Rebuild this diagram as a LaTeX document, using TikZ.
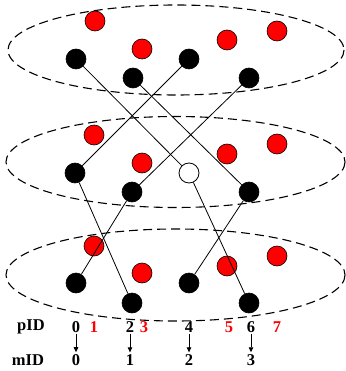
\documentclass[tikz,border=0pt]{standalone}
\usepackage{fontspec}
\setmainfont{Liberation Serif}
\usepackage{tikz}
\usetikzlibrary{arrows.meta,positioning}

\begin{document}
\begin{tikzpicture}[x=1pt,y=-1pt]
  \tikzstyle{blk}=[circle, draw, fill=black, minimum size=20pt, inner sep=0pt, line width=0.6pt]
  \tikzstyle{rd}=[circle, draw, fill=red, minimum size=20pt, inner sep=0pt, line width=0.6pt]
  \tikzstyle{wht}=[circle, draw, fill=white, minimum size=20pt, inner sep=0pt, line width=0.8pt]
  \tikzstyle{grp}=[draw, dash pattern=on 9pt off 5pt, line width=1.1pt]
  \tikzstyle{lbl}=[font=\fontsize{16.5}{16.5}\selectfont\bfseries, inner sep=1pt]
  \tikzstyle{link}=[line width=0.8pt]
  \useasboundingbox (0,0) rectangle (345,371);
  % groups
  \draw[grp] (176,50) ellipse [x radius=168, y radius=45];
  \draw[grp] (175.5,162) ellipse [x radius=169.5, y radius=45.5];
  \draw[grp] (175.5,275) ellipse [x radius=169.5, y radius=46];
  % top
  \node[rd] (a1) at (95,21) {};
  \node[rd] (a3) at (142,49) {};
  \node[rd] (a5) at (227,40) {};
  \node[rd] (a7) at (277,31) {};
  \node[blk] (a0) at (76,59) {};
  \node[blk] (a2) at (133,78) {};
  \node[blk] (a4) at (189,59) {};
  \node[blk] (a6) at (249,78) {};
  % middle
  \node[rd] (b1) at (94,135) {};
  \node[rd] (b3) at (142,163) {};
  \node[rd] (b5) at (227,154) {};
  \node[rd] (b7) at (277,144) {};
  \node[blk] (b0) at (75,173) {};
  \node[blk] (b2) at (132,192) {};
  \node[wht] (b4) at (189,173) {};
  \node[blk] (b6) at (249,192) {};
  % bottom
  \node[rd] (c1) at (94,246) {};
  \node[rd] (c3) at (142,273) {};
  \node[rd] (c5) at (227,266) {};
  \node[rd] (c7) at (277,256) {};
  \node[blk] (c0) at (76,283) {};
  \node[blk] (c2) at (132,303) {};
  \node[blk] (c4) at (189,283) {};
  \node[blk] (c6) at (249,303) {};
  % links
  \draw[link] (a0) -- (b4);
  \draw[link] (a2) -- (b6);
  \draw[link] (a4) -- (b0);
  \draw[link] (a6) -- (b2);
  \draw[link] (b0) -- (c2);
  \draw[link] (b2) -- (c0);
  \draw[link] (b4) -- (c6);
  \draw[link] (b6) -- (c4);
  % ids
  \node[lbl] (pid) at (31,327) {pID};
  \node[lbl] (p0) at (76,327) {0};
  \node[lbl, red] (p1) at (94,327) {1};
  \node[lbl] (p2) at (130,327) {2};
  \node[lbl, red] (p3) at (144,327) {3};
  \node[lbl] (p4) at (189,327) {4};
  \node[lbl, red] (p5) at (229,327) {5};
  \node[lbl] (p6) at (251,327) {6};
  \node[lbl, red] (p7) at (277,327) {7};
  \node[lbl] (mid) at (28,360) {mID};
  \node[lbl] (m0) at (76,360) {0};
  \node[lbl] (m1) at (130,360) {1};
  \node[lbl] (m2) at (189,360) {2};
  \node[lbl] (m3) at (251,360) {3};
  \draw[-{Triangle[length=5pt,width=4.5pt]}, line width=0.8pt, shorten >=1pt] (p0) -- (m0);
  \draw[-{Triangle[length=5pt,width=4.5pt]}, line width=0.8pt, shorten >=1pt] (p2) -- (m1);
  \draw[-{Triangle[length=5pt,width=4.5pt]}, line width=0.8pt, shorten >=1pt] (p4) -- (m2);
  \draw[-{Triangle[length=5pt,width=4.5pt]}, line width=0.8pt, shorten >=1pt] (p6) -- (m3);
\end{tikzpicture}
\end{document}
